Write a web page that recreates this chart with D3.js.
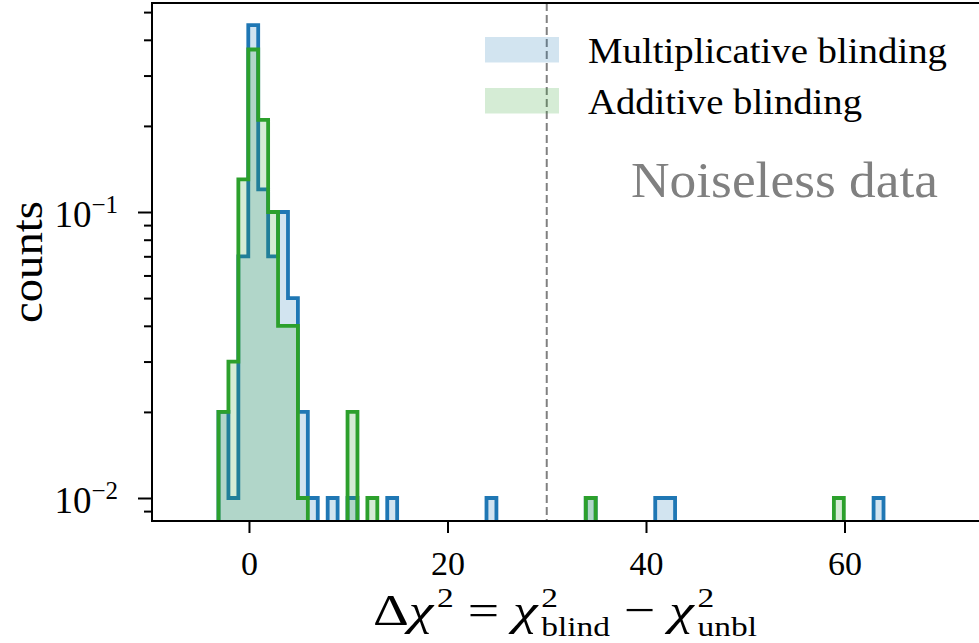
<!DOCTYPE html>
<html><head><meta charset="utf-8">
<script src="https://cdn.jsdelivr.net/npm/d3@7"></script>
<style>
html,body{margin:0;padding:0;background:#fff;}
svg{display:block;}
text{font-family:"Liberation Serif","Times New Roman",serif;fill:#000;}
</style></head><body>
<svg id="chart" width="979" height="643"></svg>
<script>
// Equal-width histogram bins, left edge of bin k = binStart + k * binWidth
const binStart = -3.07;
const binWidth = 1.0;

// Multiplicative blinding: normalised counts per occupied bin
const multBinIndex = [0, 1, 2, 3, 4, 5, 6, 7, 8, 9, 11, 13, 17, 27, 37, 44, 45, 66];
const multDensity  = [0.02, 0.01, 0.07, 0.45, 0.12, 0.07, 0.10, 0.05, 0.02, 0.01, 0.01, 0.01, 0.01, 0.01, 0.01, 0.01, 0.01, 0.01];

// Additive blinding: normalised counts per occupied bin
const addBinIndex = [0, 1, 2, 3, 4, 5, 6, 7, 8, 13, 15, 37, 62];
const addDensity  = [0.02, 0.03, 0.13, 0.37, 0.21, 0.10, 0.04, 0.04, 0.01, 0.02, 0.01, 0.01, 0.01];

const seriesNames  = ["Multiplicative blinding", "Additive blinding"];
const seriesColors = ["#1f77b4", "#2ca02c"];

const thresholdX = 30;
const xDomain = [-9.77, 73.55];
const yDomain = [0.00831, 0.538];
const xTickValues = [0, 20, 40, 60];
const xTickLabels = ["0", "20", "40", "60"];
const yMajorTicks = [0.01, 0.1];
const yMajorExponents = ["−2", "−1"];
const yMinorTicks = [0.009, 0.02, 0.03, 0.04, 0.05, 0.06, 0.07, 0.08, 0.09, 0.2, 0.3, 0.4, 0.5];
const annotation = "Noiseless data";

const svg = d3.select("#chart");
const plot = {left: 152, right: 979, top: 3, bottom: 521};

const x = d3.scaleLinear().domain(xDomain).range([plot.left, plot.right]);
const y = d3.scaleLog().domain(yDomain).range([plot.bottom, plot.top]);

svg.append("defs").append("clipPath").attr("id", "plotClip")
  .append("rect")
  .attr("x", plot.left).attr("y", plot.top)
  .attr("width", plot.right - plot.left).attr("height", plot.bottom - plot.top);

// expand sparse bins into a full list of (edge, value) step points
function stepPoints(idx, vals) {
  const n = d3.max(idx) + 1;
  const full = new Array(n).fill(0);
  idx.forEach((k, i) => { full[k] = vals[i]; });
  const pts = [{e: binStart, v: 0}];
  full.forEach((v, k) => {
    pts.push({e: binStart + k * binWidth, v});
    pts.push({e: binStart + (k + 1) * binWidth, v});
  });
  pts.push({e: binStart + n * binWidth, v: 0});
  return pts;
}
const below = plot.bottom + 40;
const yv = d => d.v > 0 ? y(d.v) : below;

const line = d3.line().x(d => x(d.e)).y(yv);
const area = d3.area().x(d => x(d.e)).y0(below).y1(yv);

const g = svg.append("g").attr("clip-path", "url(#plotClip)");
const series = [
  {pts: stepPoints(multBinIndex, multDensity), color: seriesColors[0]},
  {pts: stepPoints(addBinIndex, addDensity), color: seriesColors[1]}
];
series.forEach(s => {
  g.append("path").attr("d", area(s.pts))
    .attr("fill", s.color).attr("fill-opacity", 0.2).attr("stroke", "none");
  g.append("path").attr("d", line(s.pts))
    .attr("fill", "none").attr("stroke", s.color).attr("stroke-width", 3.8)
    .attr("stroke-linejoin", "miter");
});

// threshold marker
svg.append("line")
  .attr("x1", x(thresholdX)).attr("x2", x(thresholdX))
  .attr("y1", plot.top).attr("y2", plot.bottom)
  .attr("stroke", "#808080").attr("stroke-width", 2)
  .attr("stroke-dasharray", "8,4");

// axes
const xAxis = d3.axisBottom(x).tickValues(xTickValues)
  .tickFormat((d, i) => xTickLabels[i]).tickSize(12).tickPadding(0);
const gx = svg.append("g").attr("transform", `translate(0,${plot.bottom})`).call(xAxis);
gx.select(".domain").remove();
gx.selectAll(".tick line").attr("stroke", "#000").attr("stroke-width", 2);
gx.selectAll(".tick text").attr("font-size", 34).attr("y", 54).attr("dy", 0)
  .style("font-family", '"Liberation Serif", serif');

const yAxisMinor = d3.axisLeft(y).tickValues(yMinorTicks).tickFormat("").tickSize(8);
const gyMinor = svg.append("g").attr("transform", `translate(${plot.left},0)`).call(yAxisMinor);
gyMinor.select(".domain").remove();
gyMinor.selectAll(".tick line").attr("stroke", "#000").attr("stroke-width", 2);

const yAxisMajor = d3.axisLeft(y).tickValues(yMajorTicks).tickFormat("").tickSize(14);
const gy = svg.append("g").attr("transform", `translate(${plot.left},0)`).call(yAxisMajor);
gy.select(".domain").remove();
gy.selectAll(".tick line").attr("stroke", "#000").attr("stroke-width", 2);
gy.selectAll(".tick text").each(function(d, i) {
  const t = d3.select(this).attr("x", -34).attr("dy", "0.38em")
    .attr("text-anchor", "end").attr("font-size", 37)
    .style("font-family", '"Liberation Serif", serif');
  t.text(null);
  t.append("tspan").text("10");
  t.append("tspan").attr("font-size", 25).attr("dy", -14).text(yMajorExponents[i]);
});

// spines
const spine = [[plot.left, plot.top, plot.left, plot.bottom],
               [plot.left, plot.bottom, plot.right + 5, plot.bottom],
               [plot.left, plot.top, plot.right + 5, plot.top]];
svg.selectAll(".spine").data(spine).enter().append("line")
  .attr("x1", d => d[0]).attr("y1", d => d[1]).attr("x2", d => d[2]).attr("y2", d => d[3])
  .attr("stroke", "#000").attr("stroke-width", 2).attr("stroke-linecap", "square");

// y label
svg.append("text").attr("transform", "translate(42,262) rotate(-90)")
  .attr("text-anchor", "middle").attr("font-size", 44)
  .attr("textLength", 122).attr("lengthAdjust", "spacingAndGlyphs")
  .text("counts");

// x label: Δχ² = χ²_blind − χ²_unbl, one text element with positioned tspans
(function xLabel() {
  const base = 625, main = 45, small = 27;
  const lab = svg.append("text").style("white-space", "pre");
  const pieces = [
    {t: "Δ"}, {t: "χ", it: true}, {sup: "2"},
    {t: " = "}, {t: "χ", it: true}, {sup: "2", sub: "blind"},
    {t: " − "}, {t: "χ", it: true}, {sup: "2", sub: "unbl"}
  ];
  let cx = 0;
  pieces.forEach(p => {
    if (p.t !== undefined) {
      const el = lab.append("tspan").attr("x", cx).attr("y", base)
        .attr("font-size", main).attr("font-style", p.it ? "italic" : "normal")
        .text(p.t);
      cx += el.node().getComputedTextLength() + (p.it ? 3 : 0);
    } else {
      const s = lab.append("tspan").attr("x", cx).attr("y", base - 18)
        .attr("font-size", small).text(p.sup);
      let w = s.node().getComputedTextLength();
      if (p.sub) {
        const b = lab.append("tspan").attr("x", cx).attr("y", base + 11)
          .attr("font-size", small).text(p.sub);
        w = Math.max(w, b.node().getComputedTextLength());
      }
      cx += w;
    }
  });
  // stretch the assembled label to its drawn width
  const target = 384;
  lab.attr("transform", `translate(${565 - target / 2},0) scale(${target / cx},1)`);
})();

// legend
const legend = svg.append("g");
seriesNames.forEach((name, i) => {
  const ly = 37 + i * 51;
  legend.append("rect").attr("x", 485).attr("y", ly).attr("width", 74).attr("height", 25.5)
    .attr("fill", seriesColors[i]).attr("fill-opacity", 0.2);
  legend.append("text").attr("x", 588).attr("y", ly + 25.5).attr("font-size", 35)
    .attr("textLength", i === 0 ? 359 : 274).attr("lengthAdjust", "spacingAndGlyphs")
    .text(name);
});

svg.append("text").attr("x", 631).attr("y", 197).attr("font-size", 50)
  .attr("fill", "#808080").style("fill", "#808080")
  .attr("textLength", 307).attr("lengthAdjust", "spacingAndGlyphs")
  .text(annotation);
</script>
</body></html>
